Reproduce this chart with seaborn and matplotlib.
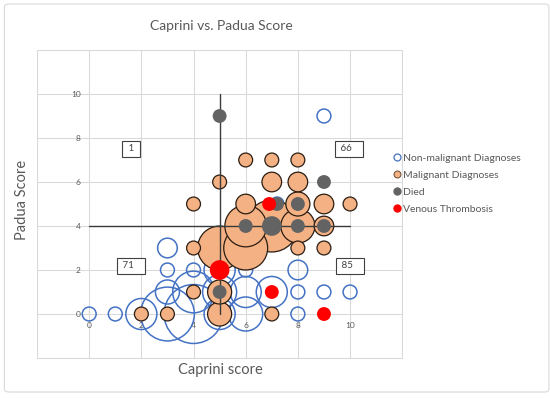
import numpy as np
import pandas as pd
import matplotlib
matplotlib.use("Agg")
import matplotlib.pyplot as plt
import seaborn as sns
from matplotlib.patches import FancyBboxPatch
from matplotlib.lines import Line2D

# Caprini (x), Padua (y) and patient counts (bubble size) per series
nonmal_x = [0, 1, 2, 3, 4, 3, 3, 3, 4, 4, 5, 5, 6, 6, 7, 5, 6, 8, 8, 9, 10, 8, 9, 7.2]
nonmal_y = [0, 0, 0, 0, 0, 1, 2, 3, 2, 1, 1, 0, 0, 1, 1, 2, 2, 0, 1, 1, 1, 2, 9, 5]
nonmal_n = [1, 1, 5, 15, 18, 3, 1, 2, 1, 9, 6, 5, 6, 5, 5, 5, 1, 1, 1, 1, 1, 2, 1, 1]

malig_x = [2, 3, 4, 4, 4, 5, 5, 5, 5, 6, 6, 7, 8, 6, 6, 7, 8, 7, 8, 8, 9, 10, 9, 9, 8, 7]
malig_y = [0, 0, 1, 3, 5, 0, 1, 3, 6, 3, 4, 4, 4, 5, 7, 7, 7, 6, 6, 5, 5, 5, 4, 3, 3, 0]
malig_n = [1, 1, 1, 1, 1, 3, 3, 10, 1, 10, 9, 14, 6, 2, 1, 1, 1, 2, 2, 3, 2, 1, 2, 1, 1, 1]

died_x = [5, 5, 6, 7, 8, 9, 9, 7.2, 8]
died_y = [9, 1, 4, 4, 4, 4, 6, 5, 5]
died_n = [1, 1, 1, 2, 1, 1, 1, 1, 1]

vte_x = [5, 7, 9, 6.9]
vte_y = [2, 1, 0, 5]
vte_n = [2, 1, 1, 1]

# quadrant counts shown in the boxes
quad_labels = ["1", "66", "71", "85"]
quad_x = [1.6, 9.95, 1.6, 10.0]
quad_y = [7.5, 7.5, 2.2, 2.2]

ticks = [-2, 0, 2, 4, 6, 8, 10, 12]
tick_labels = ["", "0", "2", "4", "6", "8", "10", ""]

BLUE = "#4472C4"
ORANGE = "#F4B183"
GRAY = "#636363"
RED = "#FF0000"
TXT = "#595959"
K = 100  # points^2 per patient


def frame(x, y, n):
    df = pd.DataFrame({"x": x, "y": y, "n": n})
    return df.sort_values("n", ascending=False).reset_index(drop=True)


sns.set_theme(style="white")
plt.rcParams["font.family"] = ["Lato", "DejaVu Sans"]

fig = plt.figure(figsize=(5.5, 3.98), dpi=100)
ax = fig.add_axes([0.0673, 0.1005, 0.664, 0.7739])

series = [
    (frame(nonmal_x, nonmal_y, nonmal_n), dict(facecolor="none", edgecolor=BLUE, linewidth=1.1), 2),
    (frame(malig_x, malig_y, malig_n), dict(color=ORANGE, edgecolor="#2b1d12", linewidth=0.9), 3),
    (frame(died_x, died_y, died_n), dict(color=GRAY, edgecolor="none", linewidth=0), 5),
    (frame(vte_x, vte_y, vte_n), dict(color=RED, edgecolor="none", linewidth=0), 6),
]
for df, style, z in series:
    sizes = {v: K * v for v in df["n"].unique()}
    sns.scatterplot(data=df, x="x", y="y", size="n", sizes=sizes, legend=False,
                    ax=ax, zorder=z, **style)

# crosshair at Caprini 5 / Padua 4
ax.plot([5, 5], [0, 10], color="#3a3a3a", lw=1.0, zorder=4)
ax.plot([0, 10], [4, 4], color="#3a3a3a", lw=1.0, zorder=4)

ax.set_xlim(-2, 12)
ax.set_ylim(-2, 12)
ax.set_xticks(ticks)
ax.set_xticklabels(tick_labels)
ax.set_yticks(ticks)
ax.set_yticklabels(tick_labels)
ax.spines["bottom"].set_position(("data", 0))
ax.spines["left"].set_position(("data", 0))
for s in ax.spines.values():
    s.set_visible(False)
ax.tick_params(length=0, labelsize=6, labelcolor=TXT, pad=6)
ax.grid(True, color="#D9D9D9", lw=0.75, zorder=0)
ax.set_axisbelow(True)
ax.plot([-2, 12, 12, -2, -2], [-2, -2, 12, 12, -2], color="#D9D9D9", lw=0.75,
        clip_on=False, zorder=0)
ax.set_xlabel("")
ax.set_ylabel("")

for lab, qx, qy in zip(quad_labels, quad_x, quad_y):
    txt = " " + lab + " " if len(lab) == 1 else " " + lab + "   "
    ax.text(qx, qy, txt, ha="center", va="center", fontsize=7,
            color="#404040", zorder=8,
            bbox=dict(boxstyle="square,pad=0.35", fc="white", ec="#404040", lw=0.8))

fig.text(0.403, 0.935, "Caprini vs. Padua Score", ha="center", va="center",
         fontsize=10, color=TXT)
fig.text(0.40, 0.07, "Caprini score", ha="center", va="center", fontsize=10.5, color=TXT)
fig.text(0.04, 0.497, "Padua Score", ha="center", va="center", rotation=90,
         fontsize=10.5, color=TXT)

handles = [
    Line2D([], [], marker="o", ls="none", ms=5, mfc="none", mec=BLUE, mew=0.9),
    Line2D([], [], marker="o", ls="none", ms=5, mfc=ORANGE, mec="#6b4a30", mew=0.7),
    Line2D([], [], marker="o", ls="none", ms=5, mfc=GRAY, mec=GRAY),
    Line2D([], [], marker="o", ls="none", ms=5, mfc=RED, mec=RED),
]
names = ["Non-malignant Diagnoses", "Malignant Diagnoses", "Died", "Venous Thrombosis"]
fig.legend(handles, names, loc="upper left", bbox_to_anchor=(0.705, 0.625),
           frameon=False, fontsize=7.5, labelcolor=TXT, handletextpad=0.1,
           handlelength=1.0, labelspacing=0.75, borderaxespad=0)

fig.patches.append(FancyBboxPatch((0.008, 0.015), 0.99, 0.975, boxstyle="round,pad=0,rounding_size=0.008",
                                  transform=fig.transFigure, fc="none", ec="#D9D9D9", lw=0.8))

fig.savefig("out.png", dpi=100, facecolor="white")
